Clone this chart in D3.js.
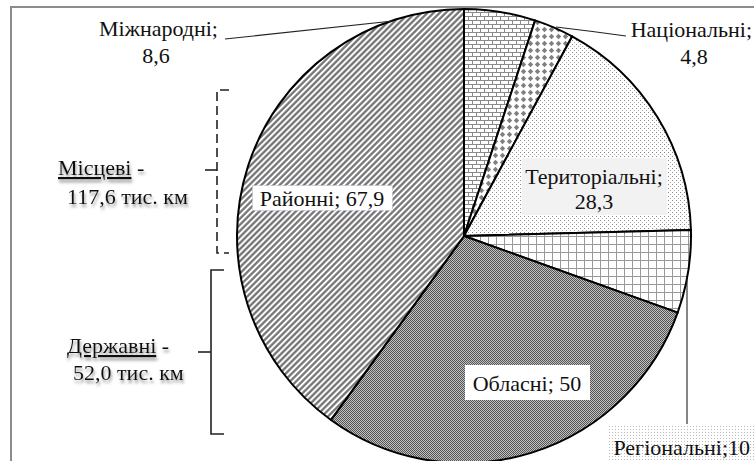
<!DOCTYPE html>
<html><head><meta charset="utf-8">
<script src="https://cdn.jsdelivr.net/npm/d3@7"></script>
<style>
html,body{margin:0;padding:0;background:#fff;}
svg{display:block;}
</style></head>
<body>
<svg id="chart" width="754" height="461"></svg>
<script>
// ---- data ----
const categories = ["Міжнародні", "Національні", "Територіальні", "Регіональні", "Обласні", "Районні"];
const values = [8.6, 4.8, 28.3, 10, 50, 67.9];
const valueLabels = ["8,6", "4,8", "28,3", "10", "50", "67,9"];
const groupNames = ["Місцеві", "Державні"];
const groupTotals = ["117,6 тис. км", "52,0 тис. км"];

const FONT = "Liberation Serif, Times New Roman, serif";
const svg = d3.select("#chart");
const defs = svg.append("defs");
const FS = 22;

function pat(id, w, h, extra) {
  const p = defs.append("pattern").attr("id", id).attr("patternUnits", "userSpaceOnUse")
    .attr("width", w).attr("height", h);
  if (extra) p.attr("patternTransform", extra);
  p.append("rect").attr("width", w).attr("height", h).attr("fill", "#fff");
  return p;
}
let p = pat("brick", 8, 8);
p.append("path").attr("d", "M0,0.5H8M0,4.5H8M0.5,0V4.5M4.5,4.5V8").attr("stroke", "#8a8a8a").attr("stroke-width", 1).attr("fill", "none");
p = pat("diam", 7, 7);
p.append("path").attr("d", "M3.5,0.8L6.2,3.5L3.5,6.2L0.8,3.5Z").attr("fill", "#808080");
p = pat("dots", 4, 4);
p.append("rect").attr("x", 0).attr("y", 0).attr("width", 1).attr("height", 1).attr("fill", "#8a8a8a");
p.append("rect").attr("x", 2).attr("y", 2).attr("width", 1).attr("height", 1).attr("fill", "#aaaaaa");
p = pat("grid", 8, 8);
p.append("path").attr("d", "M0,0.5H8M0.5,0V8").attr("stroke", "#999").attr("stroke-width", 1).attr("fill", "none");
p = pat("dense", 2, 2);
p.select("rect").attr("fill", "#c0c0c0");
p.append("rect").attr("x", 0).attr("y", 0).attr("width", 1).attr("height", 1).attr("fill", "#555");
p.append("rect").attr("x", 1).attr("y", 1).attr("width", 1).attr("height", 1).attr("fill", "#555");
p = pat("hatch", 4.3, 10, "rotate(45)");
p.append("line").attr("x1", 1.3).attr("x2", 1.3).attr("y1", 0).attr("y2", 10).attr("stroke", "#6e6e6e").attr("stroke-width", 2.2);
p = pat("lbldots", 3, 3);
p.append("rect").attr("x", 0).attr("y", 0).attr("width", 1).attr("height", 1).attr("fill", "#bbb");

const f = defs.append("filter").attr("id", "shadow").attr("x", "-10%").attr("y", "-30%").attr("width", "130%").attr("height", "180%");
f.append("feDropShadow").attr("dx", 1).attr("dy", 3).attr("stdDeviation", 1.6).attr("flood-color", "#777").attr("flood-opacity", 0.8);

const fills = ["url(#brick)", "url(#diam)", "url(#dots)", "url(#grid)", "url(#dense)", "url(#hatch)"];

svg.append("path").attr("d", "M11,461V7H754").attr("fill", "none").attr("stroke", "#8c8c8c").attr("stroke-width", 2);

const cx = 464, cy = 236, R = 227;
const pie = d3.pie().sort(null).value(d => d)(values);
const arc = d3.arc().innerRadius(0).outerRadius(R);

const g = svg.append("g").attr("transform", `translate(${cx},${cy})`);
g.selectAll("path.slice").data(pie).join("path").attr("class", "slice")
  .attr("d", arc).attr("fill", (d, i) => fills[i])
  .attr("stroke", "#000").attr("stroke-width", 2).attr("stroke-linejoin", "round");

const leaders = svg.append("g").attr("fill", "none").attr("stroke", "#222").attr("stroke-width", 1.1);
leaders.append("path").attr("d", "M225,39L393,21");
leaders.append("path").attr("d", "M556,27Q590,31 626,36");
leaders.append("path").attr("d", "M687,279V424");

function txt(x, y, s, anchor) {
  return svg.append("text").attr("x", x).attr("y", y).attr("font-size", FS)
    .attr("font-family", FONT).attr("fill", "#111")
    .attr("text-anchor", anchor || "middle").text(s);
}
txt(218, 36, categories[0] + ";", "end");
txt(156, 63, valueLabels[0]);
txt(752, 37, categories[1] + ";", "end");
txt(694, 64, valueLabels[1]);

svg.append("rect").attr("x", 522).attr("y", 158).attr("width", 145).attr("height", 57).attr("fill", "#f2f2f2");
txt(594, 184, categories[2] + ";");
txt(594, 209, valueLabels[2]);

svg.append("rect").attr("x", 252.5).attr("y", 185.5).attr("width", 140).attr("height", 25).attr("fill", "#fff")
  .attr("stroke", "#9db6dc").attr("stroke-width", 1).attr("stroke-dasharray", "1,2");
txt(322, 206, categories[5] + "; " + valueLabels[5]);

svg.append("rect").attr("x", 465).attr("y", 365).attr("width", 125).attr("height", 35).attr("fill", "#fff");
txt(527, 391, categories[4] + "; " + valueLabels[4]);

svg.append("rect").attr("x", 608).attr("y", 425).attr("width", 146).attr("height", 36).attr("fill", "url(#lbldots)");
txt(750, 455, categories[3] + ";" + valueLabels[3], "end");

const br = svg.append("g").attr("fill", "none").attr("stroke", "#222").attr("stroke-width", 1.6);
br.append("path").attr("d", "M229,90H217V253H229").attr("stroke-dasharray", "9,5");
br.append("path").attr("d", "M205,170H217");
br.append("path").attr("d", "M224,270H211V434H224");
br.append("path").attr("d", "M198,352H211");

function groupLabel(x1, y1, x2, y2, name, total) {
  const t = svg.append("text").attr("x", x1).attr("y", y1).attr("font-size", FS)
    .attr("font-family", FONT).attr("fill", "#111").attr("filter", "url(#shadow)");
  t.append("tspan").attr("text-decoration", "underline").text(name);
  t.append("tspan").text(" -");
  svg.append("text").attr("x", x2).attr("y", y2).attr("font-size", FS)
    .attr("font-family", FONT).attr("fill", "#111").attr("filter", "url(#shadow)").text(total);
}
groupLabel(58, 175, 67, 204, groupNames[0], groupTotals[0]);
groupLabel(67, 353, 73, 380, groupNames[1], groupTotals[1]);
</script>
</body></html>
